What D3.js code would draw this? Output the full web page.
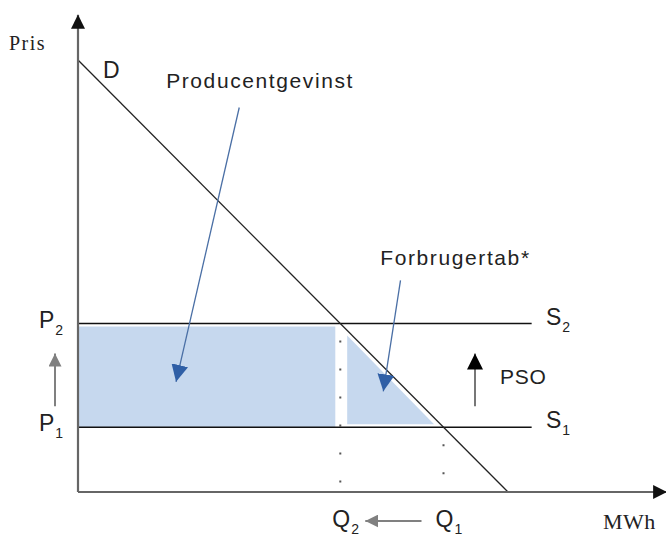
<!DOCTYPE html>
<html>
<head>
<meta charset="utf-8">
<script src="https://cdn.jsdelivr.net/npm/d3@7"></script>
<style>
  body { margin: 0; background: #fff; }
  svg text { font-family: "Liberation Sans", Arial, sans-serif; fill: #222; }
  .serif { font-family: "Liberation Serif", "Times New Roman", serif !important; }
</style>
</head>
<body>
<svg id="chart" width="666" height="536"></svg>
<script>
// model values (price / quantity units)
var demand = [{q: 0, p: 100}, {q: 100, p: 0}];
var prices = [{name: "P", sub: "1", p: 15}, {name: "P", sub: "2", p: 39}];
var quantities = [{name: "Q", sub: "2", q: 61}, {name: "Q", sub: "1", q: 85}];
var supplyLabels = [{name: "S", sub: "1", p: 15}, {name: "S", sub: "2", p: 39}];
var supplyEnd = 105.5;
var axisMax = {q: 137, p: 110.5};
var notes = [
  {text: "Producentgevinst", q: 20.5, p: 93.5, tq: 37.5, tp: 89, hq: 22.8, hp: 25.5},
  {text: "Forbrugertab*", q: 70.3, p: 52.5, tq: 75, tp: 49, hq: 71, hp: 23.3}
];

var svg = d3.select("#chart");

var x = d3.scaleLinear().domain([0, 100]).range([78, 508]);
var y = d3.scaleLinear().domain([0, 100]).range([492, 60]);

var pLow = prices[0].p, pHigh = prices[1].p;
var q2 = quantities[0].q, q1 = quantities[1].q;

var defs = svg.append("defs");
function marker(id, color, size) {
  defs.append("marker")
    .attr("id", id)
    .attr("viewBox", "0 0 10 10")
    .attr("refX", 10).attr("refY", 5)
    .attr("markerWidth", size).attr("markerHeight", size)
    .attr("markerUnits", "userSpaceOnUse")
    .attr("orient", "auto")
    .append("path")
    .attr("d", "M0,0 L10,5 L0,10 Z")
    .attr("fill", color);
}
marker("ax", "#111", 14);
marker("blue", "#2f5fa6", 17);
marker("gray", "#808080", 13);
marker("black", "#000", 16);

// producer surplus rectangle
svg.append("rect")
  .attr("x", x(0))
  .attr("y", y(pHigh) + 3)
  .attr("width", x(q2) - x(0) - 5)
  .attr("height", y(pLow) - y(pHigh) - 3)
  .attr("fill", "#c6d8ee");

// consumer loss triangle (inset from the demand line)
var tq0 = q2 + 1.6;
var triTop = 100 - tq0 - 1.2;
var triRight = 100 - (pLow + 0.7) - 1.5;
svg.append("path")
  .attr("d", d3.line()([
    [x(tq0), y(triTop)],
    [x(tq0), y(pLow) - 3],
    [x(triRight), y(pLow) - 3]
  ]) + "Z")
  .attr("fill", "#c6d8ee");

// dotted guides
svg.selectAll(".guide")
  .data(quantities)
  .enter().append("line")
  .attr("x1", d => x(d.q)).attr("x2", d => x(d.q))
  .attr("y1", d => y(100 - d.q) + 17)
  .attr("y2", y(0))
  .attr("stroke", "#555")
  .attr("stroke-width", 2)
  .attr("stroke-dasharray", "2,26");

// supply lines
svg.selectAll(".supply")
  .data(prices)
  .enter().append("line")
  .attr("x1", x(0)).attr("x2", x(supplyEnd))
  .attr("y1", d => y(d.p)).attr("y2", d => y(d.p))
  .attr("stroke", "#111").attr("stroke-width", 1.4);

// demand
svg.append("path")
  .attr("d", d3.line().x(d => x(d.q)).y(d => y(d.p))(demand))
  .attr("stroke", "#222").attr("stroke-width", 1.3).attr("fill", "none");

// axes
svg.append("line")
  .attr("x1", x(0)).attr("y1", y(0)).attr("x2", x(0)).attr("y2", y(axisMax.p))
  .attr("stroke", "#666").attr("stroke-width", 2.2).attr("marker-end", "url(#ax)");
svg.append("line")
  .attr("x1", x(0)).attr("y1", y(0)).attr("x2", x(axisMax.q)).attr("y2", y(0))
  .attr("stroke", "#666").attr("stroke-width", 2.2).attr("marker-end", "url(#ax)");

svg.append("text").attr("class", "serif")
  .attr("x", 9).attr("y", 50).attr("font-size", 20).attr("letter-spacing", 1.5).text("Pris");
svg.append("text").attr("class", "serif")
  .attr("x", 603).attr("y", 529).attr("font-size", 22).attr("letter-spacing", 0.5).text("MWh");
svg.append("text")
  .attr("x", x(0) + 25).attr("y", y(100) + 18).attr("font-size", 23).text("D");

// subscripted labels
function subLabel(g, px, py, d) {
  var t = g.append("text").attr("x", px).attr("y", py).attr("font-size", 23);
  t.append("tspan").text(d.name);
  t.append("tspan").attr("dy", 7).attr("dx", 1).attr("font-size", 14).text(d.sub);
}
prices.forEach(d => subLabel(svg, 39, y(d.p) + 4, d));
supplyLabels.forEach(d => subLabel(svg, 546, y(d.p) + 1, d));
quantities.forEach(d => subLabel(svg, x(d.q) - 8, 527, d));

// shift arrows
svg.append("line")
  .attr("x1", 55).attr("x2", 55)
  .attr("y1", y(pLow) - 21).attr("y2", y(pHigh) + 30)
  .attr("stroke", "#808080").attr("stroke-width", 2).attr("marker-end", "url(#gray)");
svg.append("line")
  .attr("x1", x(q1) - 22).attr("x2", x(q2) + 25)
  .attr("y1", 521).attr("y2", 521)
  .attr("stroke", "#808080").attr("stroke-width", 2).attr("marker-end", "url(#gray)");
svg.append("line")
  .attr("x1", 475).attr("x2", 475)
  .attr("y1", y(pLow) - 21).attr("y2", y(pHigh) + 30)
  .attr("stroke", "#777").attr("stroke-width", 2).attr("marker-end", "url(#black)");
svg.append("text")
  .attr("x", 500).attr("y", y((pLow + pHigh) / 2) + 9).attr("font-size", 21)
  .attr("letter-spacing", 0.8).text("PSO");

// annotations
notes.forEach(function (d) {
  svg.append("text")
    .attr("x", x(d.q)).attr("y", y(d.p)).attr("font-size", 21)
    .attr("letter-spacing", 1.6)
    .text(d.text);
  svg.append("line")
    .attr("x1", x(d.tq)).attr("y1", y(d.tp))
    .attr("x2", x(d.hq)).attr("y2", y(d.hp))
    .attr("stroke", "#4a6fa5").attr("stroke-width", 1.3)
    .attr("marker-end", "url(#blue)");
});
</script>
</body>
</html>
